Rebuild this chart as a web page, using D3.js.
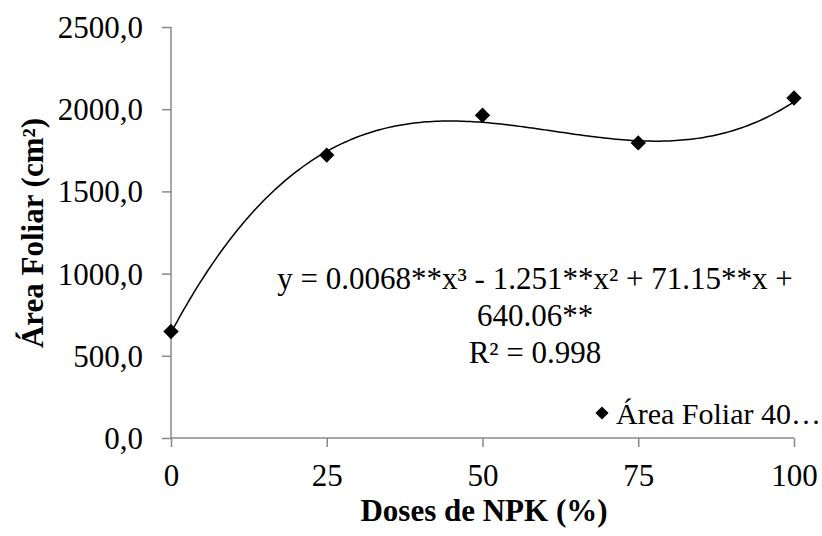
<!DOCTYPE html>
<html>
<head>
<meta charset="utf-8">
<script src="https://d3js.org/d3.v7.min.js"></script>
</head>
<body style="margin:0; background:#fff">
<div id="viz"></div>
<script>
// doses and measured leaf area
var doses = [0, 25, 50, 75, 100];
var areaFoliar = [648, 1721, 1963, 1795, 2068];
var yTicks = [0, 500, 1000, 1500, 2000, 2500];
// cubic trendline coefficients (x^3, x^2, x, const) as printed on chart
var coef = [0.0068, -1.251, 71.15, 640.06];
var eqLines = ["y = 0.0068**x³ - 1.251**x² + 71.15**x +", "640.06**", "R² = 0.998"];
var legendLabel = "Área Foliar 40…";

var W = 822, H = 536;
var FONT = "'Liberation Serif', 'Times New Roman', serif";
var svg = d3.select("#viz").append("svg").attr("width", W).attr("height", H);

var x = d3.scaleLinear().domain([0, 100]).range([171, 794]);
var y = d3.scaleLinear().domain([0, 2500]).range([438, 27]);

var axisColor = "#898989";

// y axis
var yAxis = svg.append("g").attr("transform", "translate(171,0)")
  .call(d3.axisLeft(y).tickValues(yTicks).tickSize(9).tickPadding(19)
    .tickFormat(function(d) { return d3.format(".1f")(d).replace(".", ","); }));
yAxis.selectAll("line").attr("stroke", axisColor).attr("stroke-width", 1.5);
yAxis.select(".domain").attr("stroke", axisColor).attr("stroke-width", 1.5)
  .attr("d", "M0," + y(2500) + "V" + y(0));
yAxis.selectAll("text").style("font-size", "31px").style("font-family", FONT).attr("dy", "0.34em").attr("fill", "#000");

// x axis
var xAxis = svg.append("g").attr("transform", "translate(0,438)")
  .call(d3.axisBottom(x).tickValues(doses).tickSize(9).tickPadding(17));
xAxis.selectAll("line").attr("stroke", axisColor).attr("stroke-width", 1.5);
xAxis.select(".domain").attr("stroke", axisColor).attr("stroke-width", 1.5)
  .attr("d", "M" + x(0) + ",0H" + x(100));
xAxis.selectAll("text").style("font-size", "31px").style("font-family", FONT).attr("fill", "#000");

// trendline
var poly = function(v) { return coef[0]*v*v*v + coef[1]*v*v + coef[2]*v + coef[3]; };
var xs = d3.range(0, 100.5, 0.5);
svg.append("path")
  .attr("d", d3.line().x(function(d) { return x(d); }).y(function(d) { return y(poly(d)); })(xs))
  .attr("fill", "none").attr("stroke", "#000").attr("stroke-width", 1.5);

// points
var diamond = d3.symbol().type(d3.symbolDiamond2).size(150);
svg.selectAll(".pt").data(doses).enter().append("path")
  .attr("class", "pt")
  .attr("d", diamond)
  .attr("transform", function(d, i) { return "translate(" + x(d) + "," + y(areaFoliar[i]) + ")"; })
  .attr("fill", "#000");

// equation
svg.selectAll(".eq").data(eqLines).enter().append("text")
  .attr("class", "eq")
  .attr("x", 535).attr("y", function(d, i) { return 289 + i * 37; })
  .attr("text-anchor", "middle")
  .style("font-family", FONT).style("font-size", "31px")
  .text(function(d) { return d; });

// legend
svg.append("path").attr("d", d3.symbol().type(d3.symbolDiamond2).size(110))
  .attr("transform", "translate(602,413)").attr("fill", "#000");
svg.append("text").attr("x", 616).attr("y", 424)
  .style("font-family", FONT).style("font-size", "30px").text(legendLabel);

// axis titles
svg.append("text").attr("x", 484).attr("y", 521).attr("text-anchor", "middle")
  .style("font-family", FONT).style("font-size", "31px").style("font-weight", "bold")
  .text("Doses de NPK (%)");
svg.append("text").attr("transform", "translate(43,233) rotate(-90)").attr("text-anchor", "middle")
  .style("font-family", FONT).style("font-size", "31px").style("font-weight", "bold")
  .text("Área Foliar (cm²)");
</script>
</body>
</html>
